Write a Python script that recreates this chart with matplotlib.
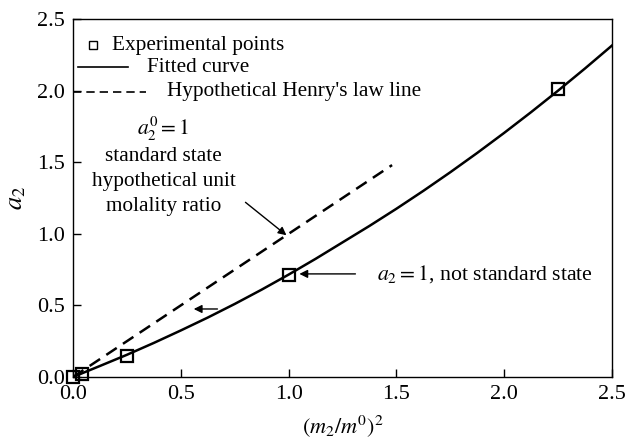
import matplotlib
matplotlib.use("Agg")
import matplotlib.pyplot as plt

plt.rcParams['font.family'] = ['Liberation Serif', 'DejaVu Serif']
plt.rcParams['mathtext.fontset'] = 'stix'

# experimental points
exp_x = [0.0, 0.04, 0.25, 1.0, 2.25]
exp_y = [0.0, 0.02, 0.15, 0.71, 2.01]

# fitted curve
fit_x = [0.0, 0.125, 0.25, 0.375, 0.5, 0.625, 0.75, 0.875, 1.0, 1.125, 1.25, 1.375,
         1.5, 1.625, 1.75, 1.875, 2.0, 2.125, 2.25, 2.375, 2.5]
fit_y = [0.0, 0.077, 0.155, 0.238, 0.325, 0.415, 0.51, 0.61, 0.715, 0.825, 0.94, 1.055,
         1.175, 1.30, 1.43, 1.565, 1.705, 1.85, 2.0, 2.155, 2.315]

# hypothetical Henry's law line
henry_x = [0.0, 1.48]
henry_y = [0.0, 1.48]

xticks = [0.0, 0.5, 1.0, 1.5, 2.0, 2.5]
yticks = [0.0, 0.5, 1.0, 1.5, 2.0, 2.5]

note_lines = ['standard state', 'hypothetical unit', 'molality ratio']

fig = plt.figure(figsize=(6.26, 4.43), dpi=100)
ax = fig.add_axes([0.1166, 0.149, 0.861, 0.808])

ax.plot(fit_x, fit_y, color='black', lw=1.8)
ax.plot(henry_x, henry_y, color='black', lw=1.8, dashes=(5, 3))
ax.plot(exp_x, exp_y, 's', ms=9, mfc='none', mec='black', mew=1.6, clip_on=False)

ax.set_xlim(0, 2.5)
ax.set_ylim(0, 2.5)
ax.set_xticks(xticks)
ax.set_yticks(yticks)
ax.set_xticklabels([f"{t:.1f}" for t in xticks])
ax.set_yticklabels([f"{t:.1f}" for t in yticks])
ax.tick_params(direction='in', length=6, width=1, labelsize=16, pad=6)
for s in ax.spines.values():
    s.set_linewidth(1.0)

ax.set_xlabel(r'$(m_2/m^0)^2$', fontsize=16, labelpad=6)
ax.set_ylabel(r'$a_2$', fontsize=19, labelpad=6)

# legend-like key, drawn by hand
tr = ax.transAxes
ax.plot([0.037], [0.927], 's', ms=6, mfc='none', mec='black', mew=1.0, transform=tr)
ax.text(0.072, 0.927, 'Experimental points', transform=tr, fontsize=15.3, va='center')
ax.plot([0.01, 0.102], [0.866, 0.866], color='black', lw=1.2, transform=tr)
ax.text(0.137, 0.866, 'Fitted curve', transform=tr, fontsize=15.3, va='center')
ax.plot([0.0, 0.135], [0.797, 0.797], color='black', lw=1.2, dashes=(5, 3), transform=tr)
ax.text(0.174, 0.797, "Hypothetical Henry's law line", transform=tr, fontsize=15.3, va='center')

# annotations
ax.text(0.42, 1.73, r'$a_2^0 = 1$', fontsize=15.5, ha='center', va='center')
for i, line in enumerate(note_lines):
    ax.text(0.42, 1.543 - 0.175 * i, line, fontsize=15.3, ha='center', va='center')
ax.annotate('', xy=(0.99, 0.99), xytext=(0.8, 1.22),
            arrowprops=dict(arrowstyle='-|>', color='black', lw=1.0,
                            mutation_scale=12, shrinkA=0, shrinkB=0))
ax.annotate('', xy=(1.05, 0.72), xytext=(1.31, 0.72),
            arrowprops=dict(arrowstyle='-|>', color='black', lw=1.0,
                            mutation_scale=12, shrinkA=0, shrinkB=0))
ax.text(1.41, 0.72, r'$a_2 = 1$, not standard state', fontsize=15.7, va='center')
ax.annotate('', xy=(0.56, 0.475), xytext=(0.67, 0.475),
            arrowprops=dict(arrowstyle='-|>', color='black', lw=1.0,
                            mutation_scale=12, shrinkA=0, shrinkB=0))

fig.savefig('out.png', dpi=100)
